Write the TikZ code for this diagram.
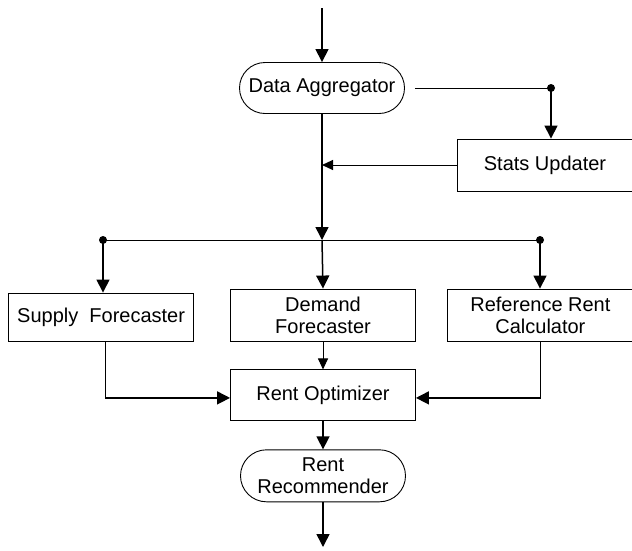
\documentclass[tikz,border=0pt]{standalone}
\usepackage{fontspec}
\setmainfont{Liberation Sans}
\usetikzlibrary{positioning,arrows.meta,shapes.misc}

\begin{document}
\begin{tikzpicture}[x=1pt,y=-1pt,node distance=28pt,font=\fontsize{20}{22}\selectfont]
    \tikzstyle{blk}=[draw,line width=0.9pt,minimum height=52pt,minimum width=185pt,align=center,inner sep=0pt]
    \tikzstyle{term}=[draw,line width=0.9pt,rounded rectangle,minimum height=51pt,minimum width=165pt,align=center,inner sep=0pt]
    \tikzstyle{flow}=[line width=1.5pt,-{Triangle[length=13pt,width=13pt]}]
    \tikzstyle{thin}=[line width=1pt,-{Triangle[length=11pt,width=10pt]}]
    \tikzstyle{dot}=[circle,fill,inner sep=0pt,minimum size=8pt]
    \useasboundingbox (0,0) rectangle (632,550);

    \node[term] (agg) at (322,88) {Data Aggregator};
    \node[blk,minimum width=176pt] (stats) at (545,165) {Stats Updater};
    \node[blk] (demand) at (323,315) {Demand\\Forecaster};
    \node[blk,left=36pt of demand,minimum height=48pt,yshift=-2pt] (supply) {Supply~ Forecaster};
    \node[blk,right=31pt of demand,minimum width=186pt] (ref) {Reference Rent\\Calculator};
    \node[blk,below=of demand,minimum height=51pt] (opt) {Rent Optimizer};
    \node[term,below=of opt,minimum height=52pt] (rec) {Rent\\Recommender};

    \coordinate (in) at (322,8);
    \coordinate (out) at (323,547);
    \coordinate (tap) at (551,88);
    \coordinate (busL) at (103,240);
    \coordinate (busR) at (540,240);
    \coordinate (bus) at (agg.south |- busL);

    \draw[flow] (in) -- (agg.north);
    \draw[line width=1pt,shorten <=10pt] (agg.east) -- (tap);
    \node[dot] at (tap) {};
    \draw[flow] (tap) -- (tap |- stats.north);
    \draw[thin] (stats.west) -- (agg.south |- stats.west);
    \draw[flow] (agg.south) -- (bus);
    % distribution bus
    \draw[line width=1pt] (busL) -- (busR);
    \node[dot] at (busL) {};
    \node[dot] at (busR) {};
    \draw[flow] (busL) -- (busL |- supply.north);
    \draw[flow] (bus) -- (demand.north);
    \draw[flow] (busR) -- (busR |- ref.north);

    \draw[thin] (demand.south) -- (opt.north);
    \draw[flow] ([xshift=4.5pt]supply.south) |- ([yshift=-2.5pt]opt.west);
    \draw[flow] (ref.south) |- ([yshift=-2.5pt]opt.east);
    \draw[flow] (opt.south) -- (rec.north);
    \draw[flow] (rec.south) -- (out);
\end{tikzpicture}
\end{document}
